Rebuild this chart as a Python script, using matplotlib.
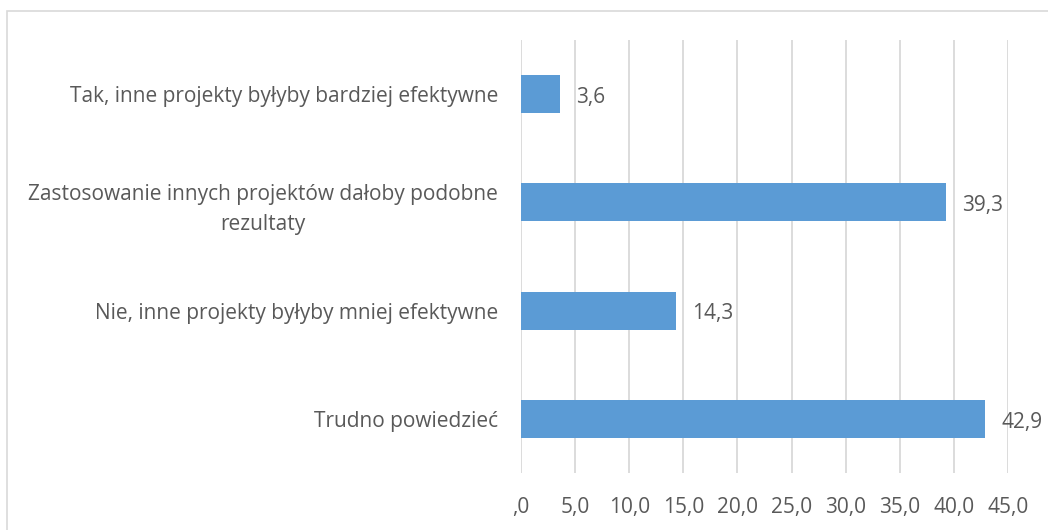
import matplotlib
matplotlib.use('Agg')
import matplotlib.pyplot as plt
from matplotlib.patches import Rectangle
from matplotlib.ticker import FuncFormatter

plt.rcParams['font.family'] = ['Open Sans', 'DejaVu Sans']

# Data (top to bottom as in the chart)
categories = [
    'Tak, inne projekty byłyby bardziej efektywne',
    'Zastosowanie innych projektów dałoby podobne\nrezultaty',
    'Nie, inne projekty byłyby mniej efektywne',
    'Trudno powiedzieć',
]
values = [3.6, 39.3, 14.3, 42.9]
xticks = [0, 5, 10, 15, 20, 25, 30, 35, 40, 45]

text_color = '#595959'
bar_color = '#5B9BD5'
grid_color = '#D9D9D9'
fs = 15

fig = plt.figure(figsize=(10.48, 5.30), dpi=100)
ax = fig.add_axes([521 / 1048, 1 - 473 / 530, 487 / 1048, 433 / 530])

# outer chart border
fig.patches.append(Rectangle((7 / 1048, -0.1), 2, 1.1 - 11 / 530,
                             transform=fig.transFigure, fill=False,
                             edgecolor='#D9D9D9', linewidth=1.2))

ypos = list(range(len(categories)))[::-1]
ax.barh(ypos, values, height=0.35, color=bar_color, zorder=3)

for y, v in zip(ypos, values):
    ax.text(v + 1.5, y - 0.03, f'{v:.1f}'.replace('.', ','), va='center', ha='left',
            fontsize=fs, color=text_color)

ax.set_xlim(0, 45)
ax.set_ylim(-0.5, 3.5)
ax.set_xticks(xticks)


def fmt(x, pos):
    s = f'{x:.1f}'.replace('.', ',')
    return ',0' if x == 0 else s


ax.xaxis.set_major_formatter(FuncFormatter(fmt))
ax.set_yticks(ypos)
ax.set_yticklabels(categories, ha='right', multialignment='center', linespacing=1.55)
ax.tick_params(axis='y', length=0, pad=16.5, labelsize=fs, labelcolor=text_color)
ax.tick_params(axis='x', length=0, pad=17.5, labelsize=fs, labelcolor=text_color)

ax.grid(axis='x', color=grid_color, linewidth=1.3, zorder=0)
for s in ax.spines.values():
    s.set_visible(False)

fig.savefig('out.png', dpi=100)
